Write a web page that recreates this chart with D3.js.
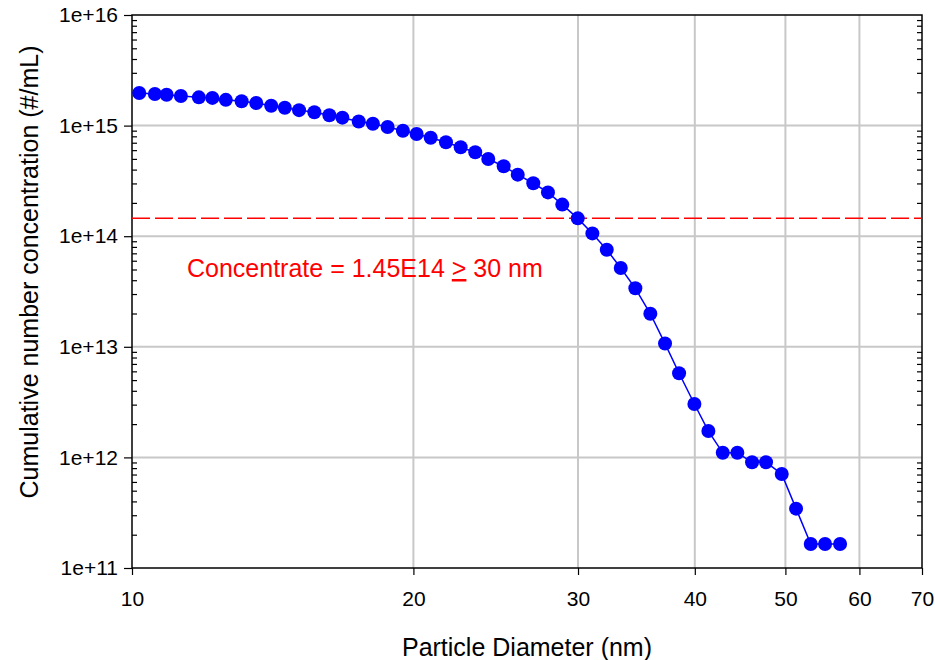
<!DOCTYPE html>
<html>
<head>
<meta charset="utf-8">
<script src="https://cdn.jsdelivr.net/npm/d3@7"></script>
<style>
  body { margin: 0; background: #fff; }
  svg { display: block; font-family: "Liberation Sans", Arial, sans-serif; }
</style>
</head>
<body>
<svg id="chart" width="935" height="660"></svg>
<script>
// particle diameter (nm) and cumulative number concentration (#/mL)
var diameter = [10.18, 10.58, 10.89, 11.28, 11.79, 12.19, 12.60, 13.10, 13.58, 14.09,
  14.57, 15.09, 15.67, 16.26, 16.79, 17.48, 18.10, 18.77, 19.49, 20.16,
  20.87, 21.67, 22.47, 23.29, 24.05, 24.98, 25.86, 26.87, 27.86, 28.86,
  29.98, 31.08, 32.20, 33.33, 34.55, 35.85, 37.17, 38.48, 39.96, 41.36,
  42.85, 44.42, 46.06, 47.67, 49.55, 51.33, 53.22, 55.13, 57.21];
var cumConc = [1.97e15, 1.93e15, 1.90e15, 1.85e15, 1.80e15, 1.78e15, 1.71e15, 1.66e15, 1.60e15, 1.51e15,
  1.45e15, 1.38e15, 1.32e15, 1.24e15, 1.18e15, 1.09e15, 1.04e15, 9.71e14, 8.97e14, 8.40e14,
  7.77e14, 7.06e14, 6.37e14, 5.74e14, 4.99e14, 4.29e14, 3.60e14, 3.01e14, 2.49e14, 1.93e14,
  1.45e14, 1.06e14, 7.55e13, 5.16e13, 3.38e13, 1.99e13, 1.07e13, 5.76e12, 3.04e12, 1.73e12,
  1.10e12, 1.10e12, 9.03e11, 9.03e11, 7.08e11, 3.44e11, 1.65e11, 1.65e11, 1.65e11];

var xTicks = [10, 20, 30, 40, 50, 60, 70];
var yTicks = [1e11, 1e12, 1e13, 1e14, 1e15, 1e16];
var threshold = 1.45e14;
var noteText = "Concentrate = 1.45E14 ";

var margin = { top: 15, right: 13, bottom: 92, left: 132 };
var svg = d3.select("#chart");
var width = +svg.attr("width") - margin.left - margin.right;
var height = +svg.attr("height") - margin.top - margin.bottom;

var x = d3.scaleLog().domain([10, 70]).range([0, width]);
var y = d3.scaleLog().domain([1e11, 1e16]).range([height, 0]);

var g = svg.append("g").attr("transform", "translate(" + margin.left + "," + margin.top + ")");

// gridlines
g.append("g").selectAll("line.vg")
  .data(xTicks.slice(1, -1))
  .enter().append("line")
    .attr("x1", function(d) { return x(d); })
    .attr("x2", function(d) { return x(d); })
    .attr("y1", 0).attr("y2", height)
    .attr("stroke", "#c8c8c8").attr("stroke-width", 2);

g.append("g").selectAll("line.hg")
  .data(yTicks.slice(1, -1))
  .enter().append("line")
    .attr("x1", 0).attr("x2", width)
    .attr("y1", function(d) { return y(d); })
    .attr("y2", function(d) { return y(d); })
    .attr("stroke", "#c8c8c8").attr("stroke-width", 2);

// minor ticks (2..9 in every decade), inside on left and right
var minor = [];
yTicks.slice(0, -1).forEach(function(t) {
  for (var k = 2; k <= 9; k++) minor.push(t * k);
});

var yMajor = d3.axisLeft(y).tickValues(yTicks).tickSize(8).tickPadding(6)
  .tickFormat(function(d) { return "1e+" + Math.round(Math.log10(d)); });
var yMinorL = d3.axisRight(y).tickValues(minor).tickSize(5).tickFormat("");
var yMinorR = d3.axisLeft(y).tickValues(minor).tickSize(5).tickFormat("");
var xAxis = d3.axisBottom(x).tickValues(xTicks).tickSize(7).tickPadding(16)
  .tickFormat(d3.format("d"));

function styleAxis(sel) {
  sel.select(".domain").remove();
  sel.selectAll("line").attr("stroke", "#000").attr("stroke-width", 1.2);
  sel.selectAll("text").attr("fill", "#000").style("font-size", "21px");
}

g.append("g").call(yMinorL).call(styleAxis);
g.append("g").attr("transform", "translate(" + width + ",0)").call(yMinorR).call(styleAxis);
g.append("g").call(yMajor).call(styleAxis);
g.append("g").attr("transform", "translate(0," + height + ")").call(xAxis).call(styleAxis);

// frame
g.append("rect")
  .attr("width", width).attr("height", height)
  .attr("fill", "none").attr("stroke", "#000").attr("stroke-width", 1.5);

// threshold line
g.append("line")
  .attr("x1", 0).attr("x2", width)
  .attr("y1", y(threshold)).attr("y2", y(threshold))
  .attr("stroke", "#ff0000").attr("stroke-width", 1.5)
  .attr("stroke-dasharray", "18,5");

// data line + markers
var pts = diameter.map(function(d, i) { return [d, cumConc[i]]; });

g.append("path")
  .datum(pts)
  .attr("fill", "none").attr("stroke", "#0000ff").attr("stroke-width", 1.5)
  .attr("d", d3.line()
    .x(function(d) { return x(d[0]); })
    .y(function(d) { return y(d[1]); }));

g.append("g").selectAll("circle")
  .data(pts)
  .enter().append("circle")
    .attr("cx", function(d) { return x(d[0]); })
    .attr("cy", function(d) { return y(d[1]); })
    .attr("r", 7)
    .attr("fill", "#0000ff");

// annotation
var note = g.append("text")
  .attr("x", 55).attr("y", 262)
  .attr("fill", "#ff0000")
  .style("font-size", "25px");
note.append("tspan").text(noteText);
note.append("tspan").attr("text-decoration", "underline").text(">");
note.append("tspan").text(" 30 nm");

// axis titles
svg.append("text")
  .attr("x", 527).attr("y", 656)
  .attr("text-anchor", "middle")
  .style("font-size", "25px")
  .text("Particle Diameter (nm)");

svg.append("text")
  .attr("transform", "translate(38,272) rotate(-90)")
  .attr("text-anchor", "middle")
  .style("font-size", "25px")
  .text("Cumulative number concentration (#/mL)");
</script>
</body>
</html>
